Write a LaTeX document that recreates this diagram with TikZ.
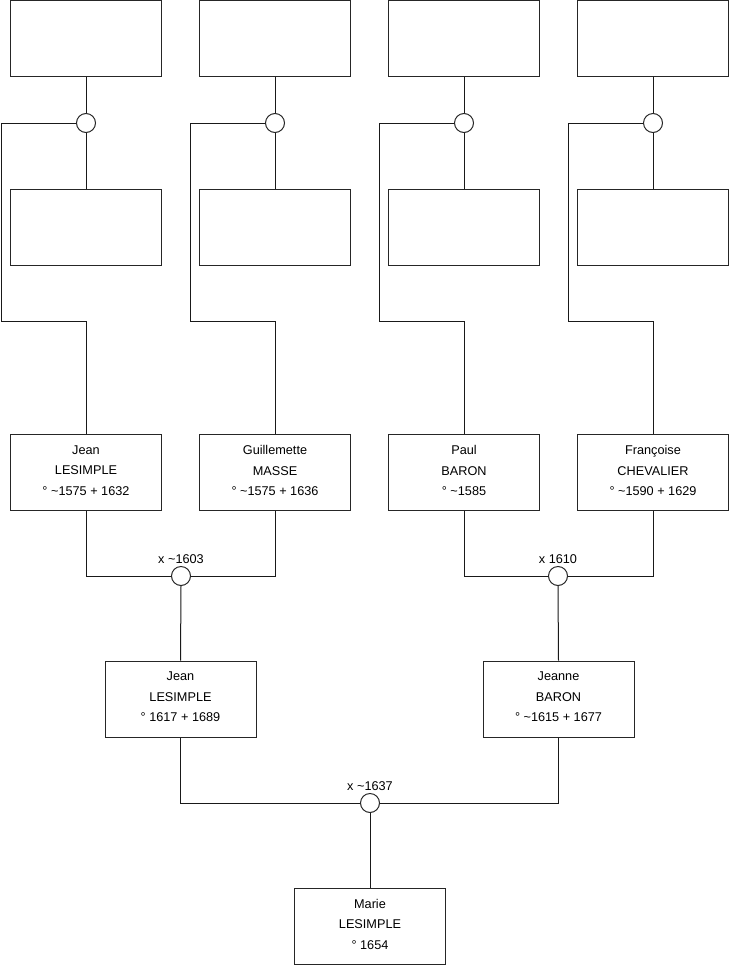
\documentclass[tikz,border=0pt]{standalone}
\usepackage{fontspec}
\setmainfont{Liberation Sans}
\begin{document}
\begin{tikzpicture}[x=1pt,y=-1pt,
  person/.style={draw=black!85,line width=1pt,minimum width=151pt,minimum height=76pt,inner sep=0pt},
  txt/.style={inner sep=0pt,align=center,font=\fontsize{12.7}{20.5}\selectfont},
  union/.style={draw=black!85,line width=1pt,circle,fill=white,minimum size=19pt,inner sep=0pt},
  link/.style={line width=1pt,draw=black!90},
  lbl/.style={font=\fontsize{12.7}{14}\selectfont,inner sep=0pt}]
\useasboundingbox (0,0) rectangle (740,975);
% top row
\node[person] (t1) at (86,38) {};
\node[person] (t2) at (275,38) {};
\node[person] (t3) at (464,38) {};
\node[person] (t4) at (653,38) {};
% unions top
\node[union] (u1) at (86,123) {};
\node[union] (u2) at (275,123) {};
\node[union] (u3) at (464,123) {};
\node[union] (u4) at (653,123) {};
% second row
\node[person] (s1) at (86,227) {};
\node[person] (s2) at (275,227) {};
\node[person] (s3) at (464,227) {};
\node[person] (s4) at (653,227) {};
% third row
\node[person] (p1) at (86,472.5) {};
\node[person] (p2) at (275,472.5) {};
\node[person] (p3) at (464,472.5) {};
\node[person] (p4) at (653,472.5) {};
\node[txt] (p1t) at ([yshift=2pt]p1.center) {Jean\\LESIMPLE\\° \textasciitilde1575 + 1632};
\node[txt] (p2t) at ([yshift=2pt]p2.center) {Guillemette\\MASSE\\° \textasciitilde1575 + 1636};
\node[txt] (p3t) at ([yshift=2pt]p3.center) {Paul\\BARON\\° \textasciitilde1585};
\node[txt] (p4t) at ([yshift=2pt]p4.center) {Françoise\\CHEVALIER\\° \textasciitilde1590 + 1629};
% unions middle
\node[union] (m1) at (181,576) {};
\node[union] (m2) at (558,576) {};
\node[lbl,anchor=base] (lm1) at (181,563) {x \textasciitilde1603};
\node[lbl,anchor=base] (lm2) at (558,563) {x 1610};
% fourth row
\node[person] (q1) at (180.5,699) {};
\node[person] (q2) at (558.5,699) {};
\node[txt] (q1t) at ([yshift=2pt]q1.center) {Jean\\LESIMPLE\\° 1617 + 1689};
\node[txt] (q2t) at ([yshift=2pt]q2.center) {Jeanne\\BARON\\° \textasciitilde1615 + 1677};
% bottom union
\node[union] (b) at (370,803) {};
\node[lbl,anchor=base] (lb) at (370,790) {x \textasciitilde1637};
% bottom
\node[person] (r) at (370,926) {};
\node[txt] (rt) at ([yshift=2pt]r.center) {Marie\\LESIMPLE\\° 1654};
% connectors top
\coordinate (k1) at (1,123);
\coordinate (k2) at (190,123);
\coordinate (k3) at (379,123);
\coordinate (k4) at (568,123);
\foreach \i/\x in {1/86,2/275,3/464,4/653}{
  \draw[link] (t\i.south) -- (u\i.north);
  \draw[link] (u\i.south) -- (s\i.north);
  \draw[link] (u\i.west) -- (k\i) |- (\x,321) -- (p\i.north);
}
% middle
\draw[link] (p1.south) |- (m1.west);
\draw[link] (p2.south) |- (m1.east);
\draw[link] (p3.south) |- (m2.west);
\draw[link] (p4.south) |- (m2.east);
\draw[link] (m1.south) -- (q1.north);
\draw[link] (m2.south) -- (q2.north);
% bottom
\draw[link] (q1.south) |- (b.west);
\draw[link] (q2.south) |- (b.east);
\draw[link] (b.south) -- (r.north);
\end{tikzpicture}
\end{document}
